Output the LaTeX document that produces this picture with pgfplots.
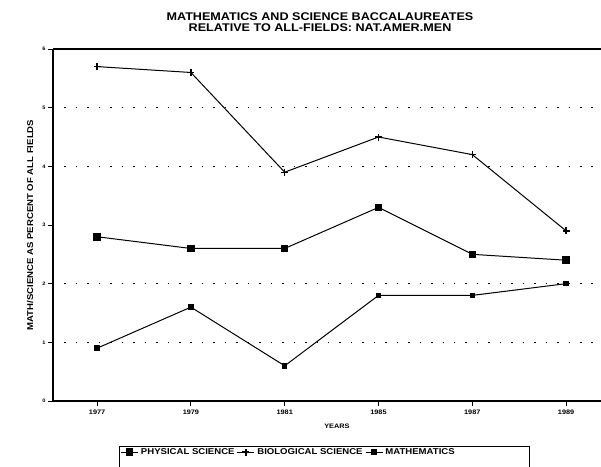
\documentclass[border=0pt]{standalone}
\usepackage{pgfplots}
\pgfplotsset{compat=1.18}
\usepackage{fontspec}
\setmainfont{Liberation Sans}[FakeStretch=1.13]
\begin{document}
\begin{tikzpicture}[x=1bp,y=1bp]
\begin{axis}[
  at={(53bp,66bp)}, anchor=south west,
  scale only axis, width=560bp, height=352bp,
  xmin=-0.47, xmax=5.5, ymin=0, ymax=6,
  axis lines*=left,
  axis line style={line width=1.2pt},
  xtick={0,...,5},
  xticklabels={1977,1979,1981,1985,1987,1989},
  ytick={0,...,6},
  tick align=outside,
  major tick length=5bp,
  tick style={black, line width=0.8pt},
  yticklabel style={font=\fontsize{5}{6}\selectfont\bfseries, xshift=1bp},
  xticklabel style={font=\fontsize{6.5}{7}\selectfont\bfseries, yshift=0bp},
  /pgf/number format/assume math mode=true,
  extra y ticks={1,2,4,5},
  extra y tick labels={},
  extra y tick style={grid=major, major tick length=0pt},
  grid style={black, line width=0.5pt, dash pattern=on 1.5pt off 10pt},
  xlabel={YEARS},
  xlabel style={font=\fontsize{6.5}{7}\selectfont\bfseries, at={(axis description cs:0.507,-0.071)}, anchor=center},
  ylabel={MATH/SCIENCE AS PERCENT OF ALL FIELDS},
  ylabel style={font=\fontsize{8.5}{9}\selectfont\bfseries, at={(axis description cs:-0.041,0.5)}, anchor=center, rotate=0},
  legend columns=3,
  legend style={draw=none, fill=none, at={(axis description cs:0.1205,-0.145)}, anchor=west,
    font=\fontsize{8.5}{9}\selectfont\bfseries, column sep=0pt, inner sep=0pt,
    nodes={inner xsep=2.5bp, inner ysep=0pt}},
  legend image post style={line width=0.8pt},
  clip=false,
]
\addplot[black, line width=1pt, mark=square*, mark size=3.3bp] coordinates {
(0,2.8) (1,2.6) (2,2.6) (3,3.3) (4,2.5) (5,2.4)};
\addlegendentry{PHYSICAL SCIENCE\hspace{14bp}}
\addplot[black, line width=1pt, mark=+, mark size=3.5bp, mark options={line width=1.4pt}] coordinates {
(0,5.7) (1,5.6) (2,3.9) (3,4.5) (4,4.2) (5,2.9)};
\addlegendentry{BIOLOGICAL SCIENCE}
\addplot[black, line width=1pt, mark=square*, mark size=2.3bp] coordinates {
(0,0.9) (1,1.6) (2,0.6) (3,1.8) (4,1.8) (5,2.0)};
\addlegendentry{MATHEMATICS}
\draw[line width=1.2pt] (rel axis cs:0,1) -- (rel axis cs:1,1);
\end{axis}
\node[font=\fontsize{11.2}{12}\selectfont\bfseries, anchor=base, inner sep=0pt] at (320bp,446.3bp)
  {MATHEMATICS AND SCIENCE BACCALAUREATES};
\node[font=\fontsize{11.2}{12}\selectfont\bfseries, anchor=base, inner sep=0pt] at (320bp,435bp)
  {RELATIVE TO ALL-FIELDS: NAT.AMER.MEN};
\draw[line width=0.8pt] (119bp,-5bp) -- (119bp,21bp) -- (529bp,21bp) -- (529bp,-5bp);
\pgfresetboundingbox
\useasboundingbox (0,0) rectangle (601bp,467bp);
\end{tikzpicture}
\end{document}
